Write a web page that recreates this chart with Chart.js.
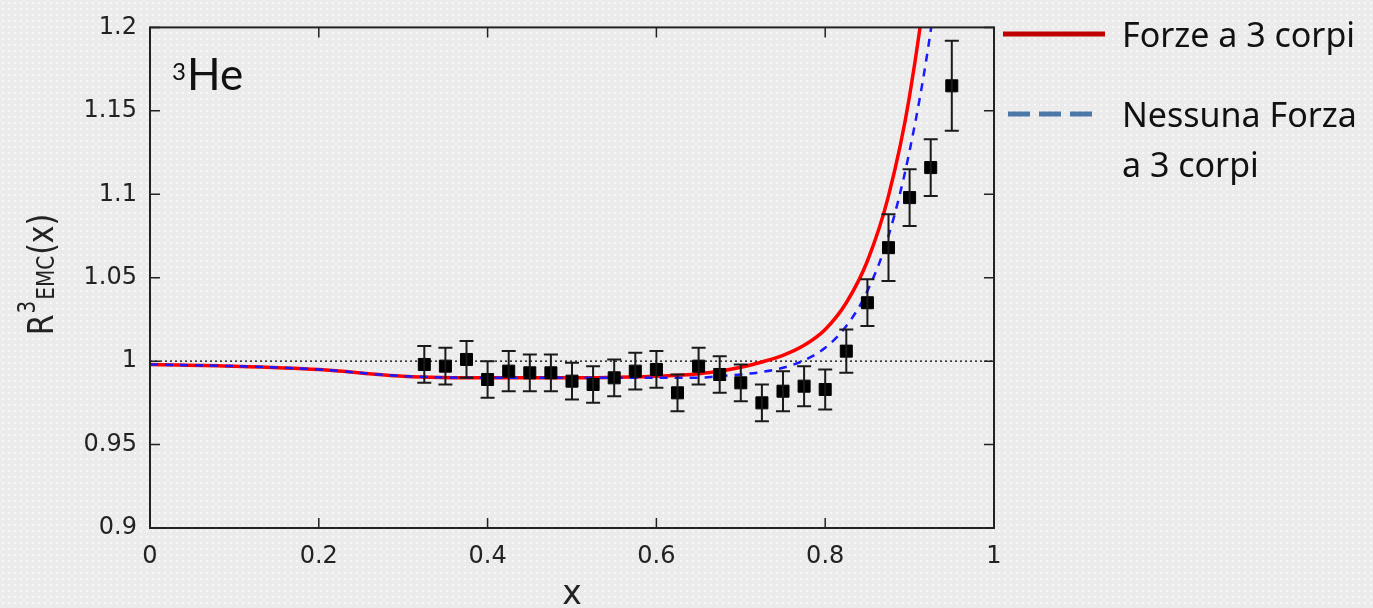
<!DOCTYPE html>
<html>
<head>
<meta charset="utf-8">
<script src="https://cdn.jsdelivr.net/npm/chart.js@4/dist/chart.umd.min.js"></script>
<style>
  html, body { margin: 0; padding: 0; }
  body {
    width: 1373px; height: 608px; overflow: hidden;
    background-color: #ebebeb;
    background-image: radial-gradient(#f7f7f7 1px, transparent 1.2px);
    background-size: 6px 6px;
  }
  #chart-emc { display: block; }
</style>
</head>
<body>
<canvas id="chart-emc" width="1373" height="608"></canvas>
<script>
// Dati sperimentali (3He, rapporto EMC)
const xDati = [0.325, 0.35, 0.375, 0.4, 0.425, 0.45, 0.475, 0.5, 0.525, 0.55, 0.575, 0.6, 0.625,
               0.65, 0.675, 0.7, 0.725, 0.75, 0.775, 0.8, 0.825, 0.85, 0.875, 0.9, 0.925, 0.95];
const rDati = [0.998, 0.997, 1.001, 0.989, 0.994, 0.993, 0.993, 0.988, 0.986, 0.990, 0.994, 0.995, 0.981,
               0.997, 0.992, 0.987, 0.975, 0.982, 0.985, 0.983, 1.006, 1.035, 1.068, 1.098, 1.116, 1.165];
const errDati = [0.011, 0.011, 0.011, 0.011, 0.012, 0.011, 0.011, 0.011, 0.011, 0.011, 0.011, 0.011, 0.011,
                 0.011, 0.011, 0.011, 0.011, 0.012, 0.012, 0.012, 0.013, 0.014, 0.020, 0.017, 0.017, 0.027];

// Curve teoriche
const xCurva = [0, 0.1, 0.2, 0.3, 0.4, 0.5, 0.6, 0.625, 0.65, 0.675, 0.7, 0.725, 0.75, 0.775,
                0.8, 0.825, 0.85, 0.875, 0.9, 0.925, 0.95];
const rForze3 = [0.998, 0.997, 0.995, 0.991, 0.990, 0.990, 0.991, 0.9915, 0.9925, 0.994, 0.9963, 0.9995, 1.0035, 1.0095,
                 1.019, 1.035, 1.060, 1.099, 1.159, 1.252, 1.40];
const rNessuna = [0.998, 0.997, 0.995, 0.991, 0.990, 0.990, 0.990, 0.990, 0.990, 0.991, 0.992, 0.9935, 0.996, 1.0005,
                  1.008, 1.021, 1.042, 1.075, 1.126, 1.198, 1.30];

const xTicks = [0, 0.2, 0.4, 0.6, 0.8, 1];
const yTicks = [0.9, 0.95, 1, 1.05, 1.1, 1.15, 1.2];

const legenda = [
    { righe: ['Forze a 3 corpi'], colore: '#c00000', tratteggio: [] },
    { righe: ['Nessuna Forza', 'a 3 corpi'], colore: '#4a78a8', tratteggio: [22, 9] }
];

const fontAssi = '"DejaVu Sans", Verdana, sans-serif';

function punti(xs, ys) {
    return xs.map((x, i) => ({ x: x, y: ys[i] }));
}

// Barre d'errore
const barreErrore = {
    id: 'barreErrore',
    afterDatasetsDraw(chart) {
        const ctx = chart.ctx, sx = chart.scales.x, sy = chart.scales.y;
        ctx.save();
        ctx.strokeStyle = '#1a1a1a';
        ctx.lineWidth = 2;
        xDati.forEach((x, i) => {
            const px = sx.getPixelForValue(x);
            const top = sy.getPixelForValue(rDati[i] + errDati[i]);
            const bot = sy.getPixelForValue(rDati[i] - errDati[i]);
            ctx.beginPath();
            ctx.moveTo(px, top); ctx.lineTo(px, bot);
            ctx.moveTo(px - 7, top); ctx.lineTo(px + 7, top);
            ctx.moveTo(px - 7, bot); ctx.lineTo(px + 7, bot);
            ctx.stroke();
        });
        ctx.restore();
    }
};

// Cornice, tacche interne, titoli, legenda
const cornice = {
    id: 'cornice',
    afterDraw(chart) {
        const ctx = chart.ctx, a = chart.chartArea, sx = chart.scales.x, sy = chart.scales.y;
        ctx.save();
        ctx.strokeStyle = '#222';
        ctx.lineWidth = 2;
        ctx.strokeRect(a.left, a.top, a.right - a.left, a.bottom - a.top);
        ctx.lineWidth = 1.5;
        ctx.beginPath();
        xTicks.forEach(v => {
            const px = sx.getPixelForValue(v);
            ctx.moveTo(px, a.bottom); ctx.lineTo(px, a.bottom - 10);
            ctx.moveTo(px, a.top); ctx.lineTo(px, a.top + 10);
        });
        yTicks.forEach(v => {
            const py = sy.getPixelForValue(v);
            ctx.moveTo(a.left, py); ctx.lineTo(a.left + 10, py);
            ctx.moveTo(a.right, py); ctx.lineTo(a.right - 10, py);
        });
        ctx.stroke();

        // titolo asse x
        ctx.fillStyle = '#222';
        ctx.font = '33px ' + fontAssi;
        ctx.textAlign = 'center';
        ctx.textBaseline = 'alphabetic';
        ctx.fillText('x', (a.left + a.right) / 2, 604);

        // titolo asse y: R^3_EMC(x)
        ctx.save();
        ctx.translate(53, 274);
        ctx.scale(1.2, 1);
        ctx.rotate(-Math.PI / 2);
        const pezzi = [
            { t: 'R', f: 30, dy: 0 },
            { t: '3', f: 20, dy: -15 },
            { t: 'EMC', f: 20, dy: 1 },
            { t: '(x)', f: 30, dy: 0 }
        ];
        let larghezza = 0;
        pezzi.forEach(p => {
            ctx.font = p.f + 'px ' + fontAssi;
            p.w = ctx.measureText(p.t).width;
            larghezza += p.w + 1;
        });
        let cx = -larghezza / 2;
        ctx.textAlign = 'left';
        pezzi.forEach(p => {
            ctx.font = p.f + 'px ' + fontAssi;
            ctx.fillText(p.t, cx, p.dy);
            cx += p.w + 1;
        });
        ctx.restore();

        // etichetta 3He
        ctx.fillStyle = '#111';
        ctx.textAlign = 'left';
        ctx.font = '24px Lato, sans-serif';
        ctx.fillText('3', 172, 80);
        ctx.font = '44px Lato, sans-serif';
        ctx.fillText('He', 187, 90);

        // legenda
        ctx.lineWidth = 5;
        legenda.forEach((voce, i) => {
            const y = i === 0 ? 34 : 114;
            ctx.strokeStyle = voce.colore;
            ctx.setLineDash(voce.tratteggio);
            ctx.beginPath();
            ctx.moveTo(i === 0 ? 1003 : 1008, y);
            ctx.lineTo(i === 0 ? 1105 : 1100, y);
            ctx.stroke();
            ctx.setLineDash([]);
            ctx.font = '34px "Noto Sans", sans-serif';
            ctx.fillStyle = '#111';
            voce.righe.forEach((r, k) => {
                ctx.fillText(r, 1122, y + 13 + k * 50);
            });
        });
        ctx.restore();
    }
};

new Chart(document.getElementById('chart-emc'), {
    type: 'scatter',
    data: {
        datasets: [
            {
                label: 'Dati',
                data: punti(xDati, rDati),
                pointStyle: 'rect',
                pointRadius: 8.5,
                backgroundColor: '#000',
                borderColor: '#000',
                borderWidth: 1,
                showLine: false
            },
            {
                label: 'Nessuna Forza a 3 corpi',
                data: punti(xCurva, rNessuna),
                showLine: true,
                borderColor: '#1a1aff',
                borderWidth: 2.5,
                borderDash: [8, 7],
                pointRadius: 0,
                cubicInterpolationMode: 'monotone'
            },
            {
                label: 'Forze a 3 corpi',
                data: punti(xCurva, rForze3),
                showLine: true,
                borderColor: '#ff0000',
                borderWidth: 3.5,
                pointRadius: 0,
                cubicInterpolationMode: 'monotone'
            },
            {
                label: 'Riferimento',
                data: punti([0, 1], [1, 1]),
                showLine: true,
                borderColor: '#000',
                borderWidth: 1.2,
                borderDash: [2, 3],
                pointRadius: 0
            }
        ]
    },
    options: {
        responsive: false,
        animation: false,
        devicePixelRatio: 1,
        layout: { padding: { left: 0, top: 20, right: 379, bottom: 0 } },
        plugins: {
            legend: { display: false },
            tooltip: { enabled: false }
        },
        scales: {
            x: {
                type: 'linear',
                min: 0, max: 1,
                afterBuildTicks: s => { s.ticks = xTicks.map(v => ({ value: v })); },
                afterFit: s => { s.height = 80; },
                grid: { display: false, drawTicks: false },
                border: { display: false },
                ticks: {
                    padding: 14,
                    color: '#222',
                    font: { family: fontAssi, size: 24 },
                    callback: v => String(+v.toFixed(2))
                }
            },
            y: {
                type: 'linear',
                min: 0.9, max: 1.2,
                afterBuildTicks: s => { s.ticks = yTicks.map(v => ({ value: v })); },
                afterFit: s => { s.width = 150; },
                grid: { display: false, drawTicks: false },
                border: { display: false },
                ticks: {
                    padding: 13,
                    color: '#222',
                    font: { family: fontAssi, size: 24 },
                    callback: v => String(+v.toFixed(2))
                }
            }
        }
    },
    plugins: [barreErrore, cornice]
});
</script>
</body>
</html>
